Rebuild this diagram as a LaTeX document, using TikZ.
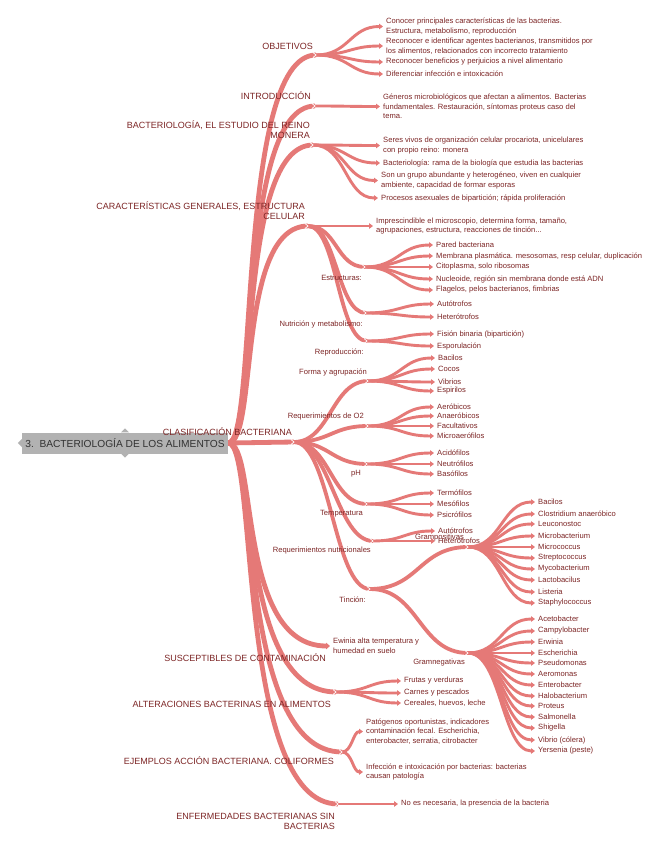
\documentclass[tikz,border=0pt]{standalone}
\usepackage{fontspec}
\setmainfont{Liberation Sans}
\usetikzlibrary{arrows.meta}
\definecolor{brpink}{RGB}{229,121,119}
\definecolor{txtred}{RGB}{125,38,38}
\definecolor{rootgray}{RGB}{178,178,178}
\definecolor{rootink}{RGB}{50,50,50}
\pgfdeclarelayer{back}
\pgfsetlayers{back,main}
\tikzset{
  toplbl/.style={anchor=east,align=right,inner sep=0pt,text=txtred,font=\fontsize{9}{10}\selectfont},
  sublbl/.style={anchor=east,inner sep=0pt,text=txtred,font=\fontsize{7.6}{9}\selectfont},
  item/.style={anchor=west,align=left,inner xsep=3pt,inner ysep=0pt,text=txtred,font=\fontsize{7.6}{9.5}\selectfont},
  mainbr/.style={draw=brpink,line width=4.8pt},
  midbr/.style={draw=brpink,line width=3.8pt},
  leafbr/.style={draw=brpink,line width=2.9pt,-{Triangle[length=4pt,width=5.5pt]}},
  fan/.style={out=0,in=180,distance=#1},
}
\newcommand{\hubmark}[1]{\draw[white,line width=.7pt] ([shift={(-3,-2.5)}]#1) -- (#1) -- ([shift={(-3,2.5)}]#1);}
\begin{document}
\begin{tikzpicture}[x=1pt,y=-1pt]
  \useasboundingbox (0,0) rectangle (646,848);
  % central topic
  \node[fill=rootgray,text=rootink,font=\fontsize{10.2}{12}\selectfont,minimum width=206pt,minimum height=21pt,inner sep=0pt] (root) at (125,443) {3.\ \ BACTERIOLOGÍA DE LOS ALIMENTOS};
  \fill[rootgray] (root.west) ++(0,-4) -- ++(-4,4) -- ++(4,4) -- cycle;
  \fill[rootgray] (root.north) ++(-4,0) -- ++(4,-4) -- ++(4,4) -- cycle;
  \fill[rootgray] (root.south) ++(-4,0) -- ++(4,4) -- ++(4,-4) -- cycle;
  \coordinate (trunk) at (236,443);

  % main topics
  \coordinate (obj) at (316,55);
  \coordinate (intro) at (315,106);
  \coordinate (monera) at (313,145);
  \coordinate (caract) at (308,226);
  \coordinate (clasif) at (294,442);
  \coordinate (alter) at (336,692);
  \coordinate (ejem) at (342,752);
  \coordinate (enferm) at (338,804);
  \node[toplbl] (objlbl) at (313,46) {OBJETIVOS};
  \node[toplbl] (introlbl) at (311,96) {INTRODUCCIÓN};
  \node[toplbl] (moneralbl) at (310,129.5) {BACTERIOLOGÍA, EL ESTUDIO DEL REINO\\MONERA};
  \node[toplbl] (caractlbl) at (305,211) {CARACTERÍSTICAS GENERALES, ESTRUCTURA\\CELULAR};
  \node[toplbl] (clasiflbl) at (292,432) {CLASIFICACIÓN BACTERIANA};
  \node[toplbl] (susceplbl) at (326,658) {SUSCEPTIBLES DE CONTAMINACIÓN};
  \node[toplbl] (alterlbl) at (331,704) {ALTERACIONES BACTERINAS EN ALIMENTOS};
  \node[toplbl] (ejemlbl) at (334,761) {EJEMPLOS ACCIÓN BACTERIANA. COLIFORMES};
  \node[toplbl] (enfermlbl) at (335,821.5) {ENFERMEDADES BACTERIANAS SIN\\BACTERIAS};

  % objetivos / introduccion / monera
  \node[item] (o1) at (383,26.5) {Conocer principales características de las bacterias.\\Estructura, metabolismo, reproducción};
  \node[item] (o2) at (383,46) {Reconocer e identificar agentes bacterianos, transmitidos por\\los alimentos, relacionados con incorrecto tratamiento};
  \node[item] (o3) at (383,62) {Reconocer beneficios y perjuicios a nivel alimentario};
  \node[item] (o4) at (383,74) {Diferenciar infección e intoxicación};
  \node[item] (i1) at (380,106.5) {Géneros microbiológicos que afectan a alimentos. Bacterias\\fundamentales. Restauración, síntomas proteus caso del\\tema.};
  \node[item] (m1) at (380,145.5) {Seres vivos de organización celular procariota, unicelulares\\con propio reino: monera};
  \node[item] (m2) at (380,163) {Bacteriología: rama de la biología que estudia las bacterias};
  \node[item] (m3) at (378,180.5) {Son un grupo abundante y heterogéneo, viven en cualquier\\ambiente, capacidad de formar esporas};
  \node[item] (m4) at (378,198) {Procesos asexuales de bipartición; rápida proliferación};

  % caracteristicas
  \node[item] (c1) at (373,226) {Imprescindible el microscopio, determina forma, tamaño,\\agrupaciones, estructura, reacciones de tinción...};
  \coordinate (estr) at (365,267);
  \coordinate (nutr) at (366,313);
  \coordinate (repr) at (367,341);
  \node[sublbl] (estrlbl) at (362,278) {Estructuras:};
  \node[sublbl] (nutrlbl) at (363,324) {Nutrición y metabolismo:};
  \node[sublbl] (reprlbl) at (364,352) {Reproducción:};
  \node[item] (e1) at (433,245) {Pared bacteriana};
  \node[item] (e2) at (433,256) {Membrana plasmática. mesosomas, resp celular, duplicación};
  \node[item] (e3) at (433,267) {Citoplasma, solo ribosomas};
  \node[item] (e4) at (433,279) {Nucleoide, región sin membrana donde está ADN};
  \node[item] (e5) at (433,290) {Flagelos, pelos bacterianos, fimbrias};
  \node[item] (n1) at (434,304) {Autótrofos};
  \node[item] (n2) at (434,317) {Heterótrofos};
  \node[item] (r1) at (434,334) {Fisión binaria (bipartición)};
  \node[item] (r2) at (434,346) {Esporulación};

  % clasificacion
  \coordinate (forma) at (368,381);
  \coordinate (otwo) at (368,426);
  \coordinate (ph) at (367,464);
  \coordinate (temp) at (367,504);
  \coordinate (reqnut) at (373,541);
  \coordinate (tinc) at (370,589);
  \coordinate (gpos) at (468,547);
  \coordinate (gneg) at (468,653);
  \node[sublbl] (formalbl) at (367,372) {Forma y agrupación};
  \node[sublbl] (otwolbl) at (364,417) {Requerimientos de O2};
  \node[sublbl] (phlbl) at (361,474) {pH};
  \node[sublbl] (templbl) at (363,514) {Temperatura};
  \node[sublbl] (reqnutlbl) at (371,551) {Requerimientos nutricionales};
  \node[sublbl] (tinclbl) at (366,600) {Tinción:};
  \node[sublbl] (gposlbl) at (464,538) {Grampositivas};
  \node[sublbl] (gneglbl) at (465,663) {Gramnegativas};
  \node[item] (f1) at (435,358) {Bacilos};
  \node[item] (f2) at (435,369) {Cocos};
  \node[item] (f3) at (435,382) {Vibrios};
  \node[item] (f4) at (434,391) {Espirilos};
  \node[item] (x1) at (434,407) {Aeróbicos};
  \node[item] (x2) at (434,416) {Anaeróbicos};
  \node[item] (x3) at (434,426) {Facultativos};
  \node[item] (x4) at (434,436) {Microaerófilos};
  \node[item] (p1) at (434,453) {Acidófilos};
  \node[item] (p2) at (434,464) {Neutrófilos};
  \node[item] (p3) at (434,474) {Basófilos};
  \node[item] (t1) at (434,493) {Termófilos};
  \node[item] (t2) at (434,504) {Mesófilos};
  \node[item] (t3) at (434,515) {Psicrófilos};
  \node[item] (q1) at (435,531) {Autótrofos};
  \node[item] (q2) at (435,541) {Heterótrofos};
  \node[item] (gp1) at (535,502) {Bacilos};
  \node[item] (gp2) at (535,514) {Clostridium anaeróbico};
  \node[item] (gp3) at (535,524) {Leuconostoc};
  \node[item] (gp4) at (535,536) {Microbacterium};
  \node[item] (gp5) at (535,547) {Micrococcus};
  \node[item] (gp6) at (535,558) {Streptococcus};
  \node[item] (gp7) at (535,569) {Mycobacterium};
  \node[item] (gp8) at (535,580) {Lactobacilus};
  \node[item] (gp9) at (535,592) {Listeria};
  \node[item] (gp10) at (535,603) {Staphylococcus};
  \node[item] (gn1) at (535,619) {Acetobacter};
  \node[item] (gn2) at (535,631) {Campylobacter};
  \node[item] (gn3) at (535,642) {Erwinia};
  \node[item] (gn4) at (535,653) {Escherichia};
  \node[item] (gn5) at (535,663) {Pseudomonas};
  \node[item] (gn6) at (535,674) {Aeromonas};
  \node[item] (gn7) at (535,685) {Enterobacter};
  \node[item] (gn8) at (535,696) {Halobacterium};
  \node[item] (gn9) at (535,706) {Proteus};
  \node[item] (gn10) at (535,717) {Salmonella};
  \node[item] (gn11) at (535,728) {Shigella};
  \node[item] (gn12) at (535,740) {Vibrio (cólera)};
  \node[item] (gn13) at (535,751) {Yersenia (peste)};

  % lower topics
  \node[item] (ewinia) at (330,646) {Ewinia alta temperatura y\\humedad en suelo};
  \node[item] (a1) at (401,681) {Frutas y verduras};
  \node[item] (a2) at (401,693) {Carnes y pescados};
  \node[item] (a3) at (401,703) {Cereales, huevos, leche};
  \node[item] (j1) at (363,731.5) {Patógenos oportunistas, indicadores\\contaminación fecal. Escherichia,\\enterobacter, serratia, citrobacter};
  \node[item] (j2) at (363,772) {Infección e intoxicación por bacterias: bacterias\\causan patología};
  \node[item] (k1) at (398,804) {No es necesaria, la presencia de la bacteria};

  \begin{pgfonlayer}{back}
    \fill[white] (0,0) rectangle (646,848);
    % trunk
    \draw[mainbr] (root.east) .. controls +(30,0) and (trunk |- obj) .. (obj);
    \draw[mainbr] (root.east) .. controls +(30,0) and (trunk |- intro) .. (intro);
    \draw[mainbr] (root.east) .. controls +(30,0) and (trunk |- monera) .. (monera);
    \draw[mainbr] (root.east) .. controls +(30,0) and (trunk |- caract) .. (caract);
    \draw[mainbr] (root.east) -- (clasif);
    \draw[mainbr,-{Triangle[length=4pt,width=6.5pt]}] (root.east) .. controls +(30,0) and (trunk |- ewinia.west) .. (ewinia.west);
    \draw[mainbr] (root.east) .. controls +(30,0) and (trunk |- alter) .. (alter);
    \draw[mainbr] (root.east) .. controls +(30,0) and (trunk |- ejem) .. (ejem);
    \draw[mainbr] (root.east) .. controls +(30,0) and (trunk |- enferm) .. (enferm);
    % objetivos, introduccion, monera
    \draw[leafbr] (obj) to[fan=33pt] (o1.west);
    \draw[leafbr] (obj) to[fan=33pt] (o2.west);
    \draw[leafbr] (obj) to[fan=33pt] (o3.west);
    \draw[leafbr] (obj) to[fan=33pt] (o4.west);
    \draw[leafbr] (intro) to[fan=33pt] (i1.west);
    \draw[leafbr] (monera) to[fan=33pt] (m1.west);
    \draw[leafbr] (monera) to[fan=33pt] (m2.west);
    \draw[leafbr] (monera) to[fan=33pt] (m3.west);
    \draw[leafbr] (monera) to[fan=33pt] (m4.west);
    % caracteristicas
    \draw[leafbr] (caract) -- (c1.west);
    \draw[midbr] (caract) to[fan=29pt] (estr);
    \draw[midbr] (caract) to[fan=29pt] (nutr);
    \draw[midbr] (caract) to[fan=29pt] (repr);
    \draw[leafbr] (estr) to[fan=33pt] (e1.west);
    \draw[leafbr] (estr) to[fan=33pt] (e2.west);
    \draw[leafbr] (estr) to[fan=33pt] (e3.west);
    \draw[leafbr] (estr) to[fan=33pt] (e4.west);
    \draw[leafbr] (estr) to[fan=33pt] (e5.west);
    \draw[leafbr] (nutr) to[fan=33pt] (n1.west);
    \draw[leafbr] (nutr) to[fan=33pt] (n2.west);
    \draw[leafbr] (repr) to[fan=33pt] (r1.west);
    \draw[leafbr] (repr) to[fan=33pt] (r2.west);
    % clasificacion
    \draw[midbr] (clasif) to[fan=36pt] (forma);
    \draw[midbr] (clasif) to[fan=36pt] (otwo);
    \draw[midbr] (clasif) to[fan=36pt] (ph);
    \draw[midbr] (clasif) to[fan=36pt] (temp);
    \draw[midbr] (clasif) to[fan=36pt] (reqnut);
    \draw[midbr] (clasif) to[fan=36pt] (tinc);
    \draw[leafbr] (forma) to[fan=33pt] (f1.west);
    \draw[leafbr] (forma) to[fan=33pt] (f2.west);
    \draw[leafbr] (forma) to[fan=33pt] (f3.west);
    \draw[leafbr] (forma) to[fan=33pt] (f4.west);
    \draw[leafbr] (otwo) to[fan=33pt] (x1.west);
    \draw[leafbr] (otwo) to[fan=33pt] (x2.west);
    \draw[leafbr] (otwo) to[fan=33pt] (x3.west);
    \draw[leafbr] (otwo) to[fan=33pt] (x4.west);
    \draw[leafbr] (ph) to[fan=33pt] (p1.west);
    \draw[leafbr] (ph) to[fan=33pt] (p2.west);
    \draw[leafbr] (ph) to[fan=33pt] (p3.west);
    \draw[leafbr] (temp) to[fan=33pt] (t1.west);
    \draw[leafbr] (temp) to[fan=33pt] (t2.west);
    \draw[leafbr] (temp) to[fan=33pt] (t3.west);
    \draw[leafbr] (reqnut) to[fan=30pt] (q1.west);
    \draw[leafbr] (reqnut) to[fan=30pt] (q2.west);
    \draw[midbr] (tinc) to[fan=49pt] (gpos);
    \draw[midbr] (tinc) to[fan=49pt] (gneg);
    \draw[leafbr] (gpos) to[fan=33pt] (gp1.west);
    \draw[leafbr] (gpos) to[fan=33pt] (gp2.west);
    \draw[leafbr] (gpos) to[fan=33pt] (gp3.west);
    \draw[leafbr] (gpos) to[fan=33pt] (gp4.west);
    \draw[leafbr] (gpos) to[fan=33pt] (gp5.west);
    \draw[leafbr] (gpos) to[fan=33pt] (gp6.west);
    \draw[leafbr] (gpos) to[fan=33pt] (gp7.west);
    \draw[leafbr] (gpos) to[fan=33pt] (gp8.west);
    \draw[leafbr] (gpos) to[fan=33pt] (gp9.west);
    \draw[leafbr] (gpos) to[fan=33pt] (gp10.west);
    \draw[leafbr] (gneg) to[fan=33pt] (gn1.west);
    \draw[leafbr] (gneg) to[fan=33pt] (gn2.west);
    \draw[leafbr] (gneg) to[fan=33pt] (gn3.west);
    \draw[leafbr] (gneg) to[fan=33pt] (gn4.west);
    \draw[leafbr] (gneg) to[fan=33pt] (gn5.west);
    \draw[leafbr] (gneg) to[fan=33pt] (gn6.west);
    \draw[leafbr] (gneg) to[fan=33pt] (gn7.west);
    \draw[leafbr] (gneg) to[fan=33pt] (gn8.west);
    \draw[leafbr] (gneg) to[fan=33pt] (gn9.west);
    \draw[leafbr] (gneg) to[fan=33pt] (gn10.west);
    \draw[leafbr] (gneg) to[fan=33pt] (gn11.west);
    \draw[leafbr] (gneg) to[fan=33pt] (gn12.west);
    \draw[leafbr] (gneg) to[fan=33pt] (gn13.west);
    % alteraciones, ejemplos, enfermedades
    \draw[leafbr] (alter) to[fan=32pt] (a1.west);
    \draw[leafbr] (alter) to[fan=32pt] (a2.west);
    \draw[leafbr] (alter) to[fan=32pt] (a3.west);
    \draw[leafbr] (ejem) to[fan=10pt] (j1.west);
    \draw[leafbr] (ejem) to[fan=10pt] (j2.west);
    \draw[leafbr] (enferm) -- (k1.west);
    % joints
    \hubmark{obj} \hubmark{intro} \hubmark{monera} \hubmark{caract}
    \hubmark{clasif} \hubmark{alter} \hubmark{ejem} \hubmark{enferm}
    \hubmark{estr} \hubmark{nutr} \hubmark{repr}
    \hubmark{forma} \hubmark{otwo} \hubmark{ph} \hubmark{temp} \hubmark{reqnut} \hubmark{tinc}
    \hubmark{gpos} \hubmark{gneg}
  \end{pgfonlayer}
\end{tikzpicture}
\end{document}
